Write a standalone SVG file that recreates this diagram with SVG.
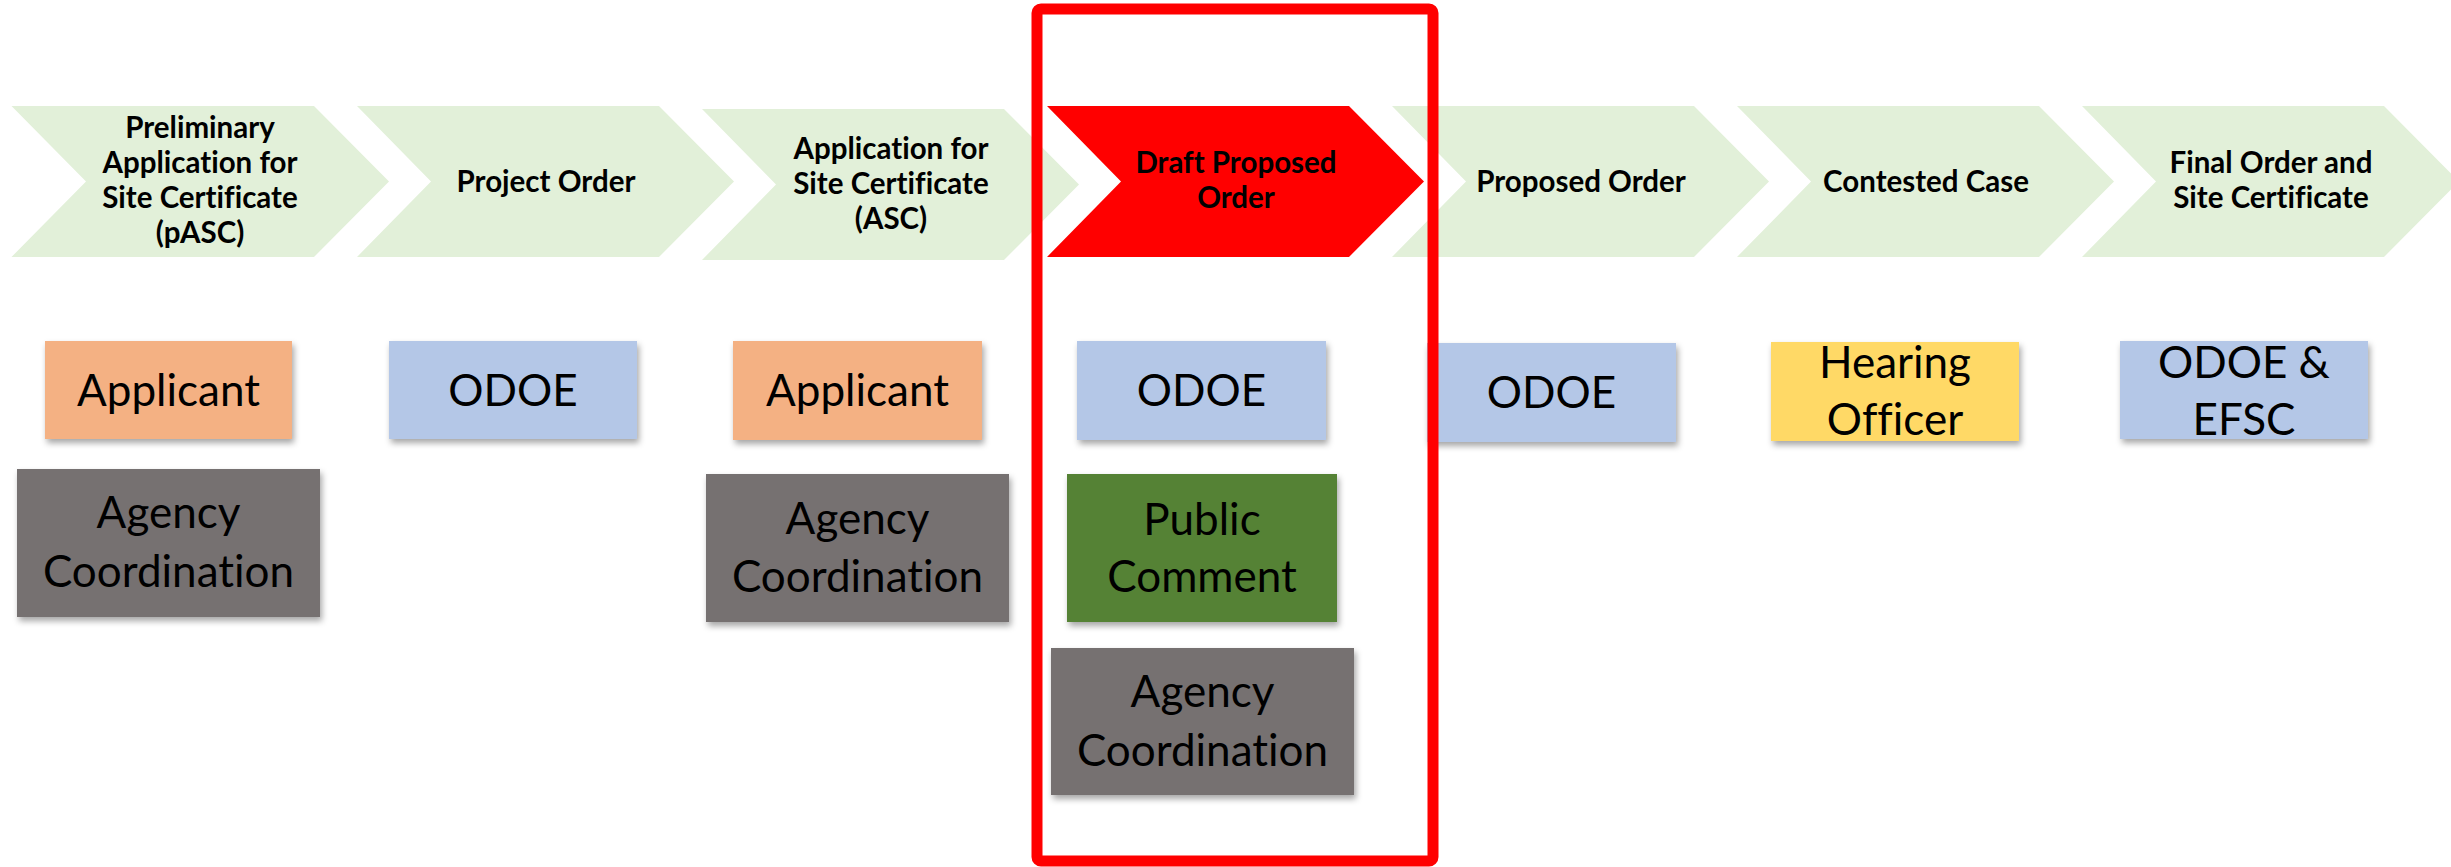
<svg xmlns="http://www.w3.org/2000/svg" width="2451" height="867" viewBox="0 0 2451 867">
<defs>
<filter id="sh" x="-10%" y="-10%" width="120%" height="130%">
<feDropShadow dx="2" dy="4" stdDeviation="3" flood-color="#000" flood-opacity="0.35"/>
</filter>
<style>
.chev{fill:#E2F0D9}
.chevr{fill:#FF0000}
.ct{font-family:Lato,"Liberation Sans",sans-serif;font-weight:bold;font-size:29.5px;fill:#000;text-anchor:middle;font-variant-ligatures:none}
.bt{font-family:Lato,"Liberation Sans",sans-serif;font-size:44px;fill:#000;text-anchor:middle;font-variant-ligatures:none}
.box{filter:url(#sh)}
.or{fill:#F4B183}
.bl{fill:#B4C7E7}
.gr{fill:#767171}
.gn{fill:#548235}
.ye{fill:#FFD966}
</style>
</defs>
<rect width="2451" height="867" fill="#fff"/>
<g id="stage1">
<path class="chev" d="M11.5,106 H314 L389,181.5 L314,257 H11.5 L86,181.5 Z"/>
<text class="ct" x="200" y="138">Preliminary</text>
<text class="ct" x="200" y="173">Application for</text>
<text class="ct" x="200" y="208">Site Certificate</text>
<text class="ct" x="200" y="243">(pASC)</text>
</g>
<g id="stage2">
<path class="chev" d="M357,106 H659 L734,181.5 L659,257 H357 L431,181.5 Z"/>
<text class="ct" x="546" y="192">Project Order</text>
</g>
<g id="stage3">
<path class="chev" d="M702,109 H1004 L1079,184.5 L1004,260 H702 L776,184.5 Z"/>
<text class="ct" x="891" y="159">Application for</text>
<text class="ct" x="891" y="194">Site Certificate</text>
<text class="ct" x="891" y="229">(ASC)</text>
</g>
<g id="stage4">
<path class="chevr" d="M1047,106 H1349 L1424,181.5 L1349,257 H1047 L1121,181.5 Z"/>
<text class="ct" x="1236" y="173">Draft Proposed</text>
<text class="ct" x="1236" y="208">Order</text>
</g>
<g id="stage5">
<path class="chev" d="M1392,106 H1694 L1769,181.5 L1694,257 H1392 L1466,181.5 Z"/>
<text class="ct" x="1581" y="192">Proposed Order</text>
</g>
<g id="stage6">
<path class="chev" d="M1737,106 H2039 L2114,181.5 L2039,257 H1737 L1811,181.5 Z"/>
<text class="ct" x="1926" y="192">Contested Case</text>
</g>
<g id="stage7">
<path class="chev" d="M2082,106 H2384 L2459,181.5 L2384,257 H2082 L2156,181.5 Z"/>
<text class="ct" x="2271" y="173">Final Order and</text>
<text class="ct" x="2271" y="208">Site Certificate</text>
</g>
<g id="applicant1">
<rect class="box or" x="45" y="341" width="247" height="98"/>
<text class="bt" x="168.5" y="406">Applicant</text>
</g>
<g id="agency1">
<rect class="box gr" x="17" y="469" width="303" height="148"/>
<text class="bt" x="168.5" y="528">Agency</text>
<text class="bt" x="168.5" y="587">Coordination</text>
</g>
<g id="odoe2">
<rect class="box bl" x="389" y="341" width="248" height="98"/>
<text class="bt" x="513" y="406">ODOE</text>
</g>
<g id="applicant3">
<rect class="box or" x="733" y="341" width="249" height="99"/>
<text class="bt" x="857.5" y="406">Applicant</text>
</g>
<g id="agency3">
<rect class="box gr" x="706" y="474" width="303" height="148"/>
<text class="bt" x="857.5" y="534">Agency</text>
<text class="bt" x="857.5" y="592">Coordination</text>
</g>
<g id="odoe4">
<rect class="box bl" x="1077" y="341" width="249" height="99"/>
<text class="bt" x="1201.5" y="406">ODOE</text>
</g>
<g id="public4">
<rect class="box gn" x="1067" y="474" width="270" height="148"/>
<text class="bt" x="1202" y="535">Public</text>
<text class="bt" x="1202" y="592">Comment</text>
</g>
<g id="agency4">
<rect class="box gr" x="1051" y="648" width="303" height="147"/>
<text class="bt" x="1202.5" y="707">Agency</text>
<text class="bt" x="1202.5" y="766">Coordination</text>
</g>
<g id="odoe5">
<rect class="box bl" x="1427" y="343" width="249" height="99"/>
<text class="bt" x="1551.5" y="408">ODOE</text>
</g>
<g id="hearing6">
<rect class="box ye" x="1771" y="342" width="248" height="99"/>
<text class="bt" x="1895" y="378">Hearing</text>
<text class="bt" x="1895" y="435">Officer</text>
</g>
<g id="odoe7">
<rect class="box bl" x="2120" y="341" width="248" height="98"/>
<text class="bt" x="2244" y="378">ODOE &amp;</text>
<text class="bt" x="2244" y="435">EFSC</text>
</g>
<g id="highlight">
<rect x="1037" y="9" width="396" height="852" rx="4" fill="none" stroke="#FF0000" stroke-width="11"/>
</g>
<g id="connectors"/>
</svg>
